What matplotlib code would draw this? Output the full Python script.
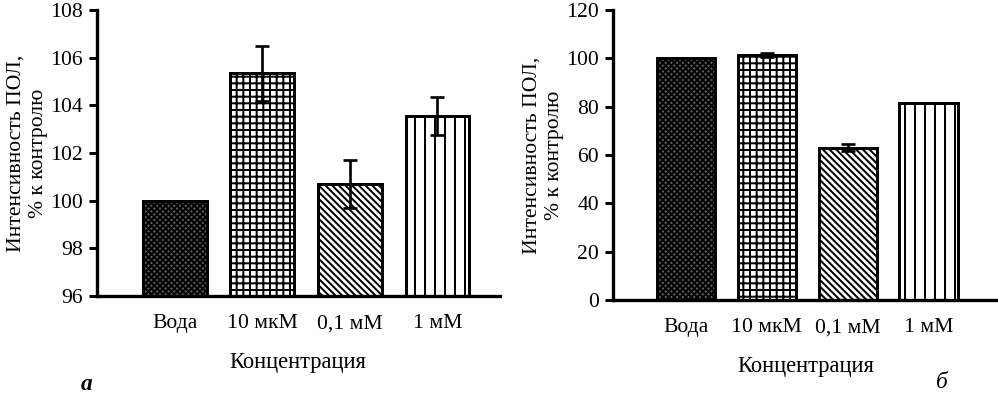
import numpy as np
import matplotlib
matplotlib.use("Agg")
import matplotlib.pyplot as plt

plt.rcParams['font.family'] = ['Liberation Serif', 'DejaVu Serif']
plt.rcParams['hatch.linewidth'] = 1.2

labels = ['Вода', '10 мкМ', '0,1 мМ', '1 мМ']
vals_a = [100.0, 105.35, 100.7, 103.55]
err_a = [0.0, 1.15, 1.0, 0.8]
vals_b = [100.0, 101.5, 63.0, 81.5]
err_b = [0.0, 0.7, 1.5, 0.0]

hatches = ['xxxxxxx', '+++', '\\' * 6, '||']
faces = ['#606060', 'white', 'white', 'white']

fig = plt.figure(figsize=(999 / 120, 396 / 120), dpi=120)
ax_a = fig.add_axes([0.0971, 0.2525, 0.403, 0.722])
ax_b = fig.add_axes([0.6136, 0.2424, 0.3864, 0.732])


def draw(ax, vals, errs, width):
    x = np.arange(len(vals))
    for i in range(len(vals)):
        ax.bar(x[i], vals[i], width=width, color=faces[i], edgecolor='black',
               hatch=hatches[i], linewidth=1.8, zorder=2)
        if errs[i] > 0:
            ax.errorbar(x[i], vals[i], yerr=errs[i], color='black', capsize=4,
                        elinewidth=1.6, capthick=1.6, zorder=3)
    ax.set_xticks(x)
    ax.set_xticklabels(labels, fontsize=13)
    ax.tick_params(axis='x', length=0, pad=11)
    ax.tick_params(axis='y', direction='out', length=5, width=1.8, labelsize=13)
    for s in ['top', 'right']:
        ax.spines[s].set_visible(False)
    for s in ['left', 'bottom']:
        ax.spines[s].set_linewidth(2.0)
    ax.set_xlabel('Концентрация', fontsize=13.5, labelpad=11)
    ax.set_ylabel('Интенсивность ПОЛ,\n% к контролю', fontsize=13,
                  linespacing=1.25, labelpad=1)


draw(ax_a, vals_a, err_a, 0.73)
ax_a.set_ylim(96, 108)
ax_a.set_yticks(np.arange(96, 109, 2))
ax_a.set_xlim(-0.89, 3.71)

draw(ax_b, vals_b, err_b, 0.72)
ax_b.set_ylim(0, 120)
ax_b.set_yticks(np.arange(0, 121, 20))
ax_b.set_xlim(-0.9, 3.87)

fig.text(87 / 999, 1 - 384 / 396, 'а', fontsize=14, style='italic',
         weight='bold', ha='center', va='center')
fig.text(942 / 999, 1 - 382 / 396, 'б', fontsize=14, style='italic',
         ha='center', va='center')

fig.savefig('out.png', dpi=120)
